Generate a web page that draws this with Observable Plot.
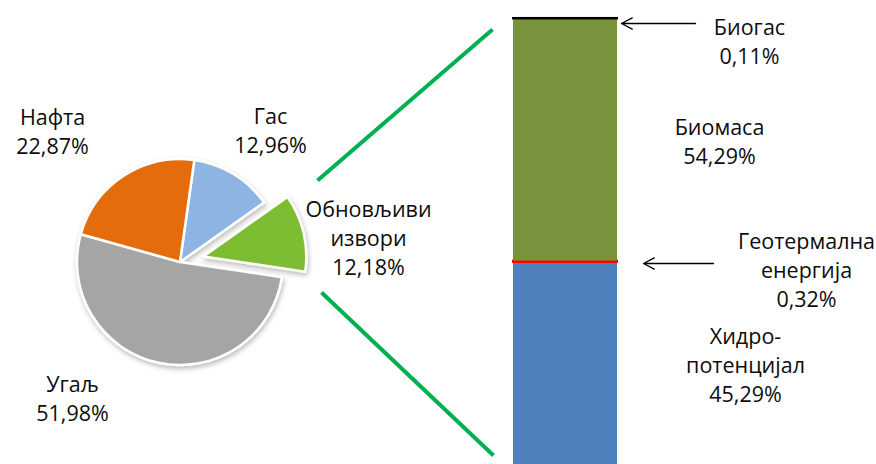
<!DOCTYPE html>
<html><head><meta charset="utf-8">
<script src="https://cdn.jsdelivr.net/npm/d3@7"></script>
<script src="https://cdn.jsdelivr.net/npm/@observablehq/plot@0.6"></script>
<style>body{margin:0;background:#fff}</style>
</head><body><div id="chart"></div>
<script>
// ---- data ----
const pieNames = ["Гас", "Обновљиви\nизвори", "Угаљ", "Нафта"];
const pieValues = [12.96, 12.18, 51.98, 22.87];
const pieColors = ["#8EB4E3", "#7CBD31", "#A5A5A5", "#E46C0A"];
const pieExploded = [false, true, false, false];

const renewNames = ["Хидро-\nпотенцијал", "Геотермална\nенергија", "Биомаса", "Биогас"];
const renewValues = [45.29, 0.32, 54.29, 0.11];
const renewColors = ["#4F81BD", "#FF0000", "#77933C", "#000000"];
const renewThin = [false, true, false, true];

// ---- layout (pixels) ----
const W = 876, H = 464;
const barTop = 18, barBottom = 464, barLeft = 513, barRight = 617;
const pieCenter = [180, 262], pieRadius = 103, pieExplode = 24, pieStart = 8;
const pieLabelPos = [[270, 129], [368, 236], [72, 397], [52, 130]];
const renewLabelPos = [[745, 363], [806, 268], [719, 140], [749, 39.5]];
const arrowPos = [[713, 263, 643, 263], [695, 23, 621, 23]];
const connectorPos = [[317, 180, 492, 29], [321, 292, 493, 455]];

const fmt = v => v.toFixed(2).replace(".", ",") + "%";
const Y = px => (barBottom - px) * 100 / (barBottom - barTop); // pixel -> y scale units

const pieData = pieNames.map((n, i) => ({name: n, value: pieValues[i], color: pieColors[i], exploded: pieExploded[i],
  label: n + "\n" + fmt(pieValues[i]), lx: pieLabelPos[i][0], ly: Y(pieLabelPos[i][1])}));
const renewData = renewNames.map((n, i) => ({name: n, value: renewValues[i], color: renewColors[i], thin: renewThin[i],
  label: n + "\n" + fmt(renewValues[i]), lx: renewLabelPos[i][0], ly: Y(renewLabelPos[i][1])}));
const arrows = arrowPos.map(a => ({x1: a[0], y1: Y(a[1]), x2: a[2], y2: Y(a[3])}));
const connectors = connectorPos.map(a => ({x1: a[0], y1: Y(a[1]), x2: a[2], y2: Y(a[3])}));

function pieMark(index, scales) {
  const g = d3.create("svg:g");
  g.append("defs").html('<filter id="pieShadow" x="-20%" y="-20%" width="140%" height="140%"><feDropShadow dx="1" dy="2.5" stdDeviation="2.5" flood-color="#000" flood-opacity="0.28"/></filter>');
  const cx = scales.x(pieCenter[0]), cy = scales.y(Y(pieCenter[1]));
  const start = pieStart * Math.PI / 180;
  const arcs = d3.pie().sort(null).value(d => d.value).startAngle(start).endAngle(start + 2 * Math.PI)(pieData);
  const arc = d3.arc().innerRadius(0).outerRadius(pieRadius);
  const gg = g.append("g").attr("transform", `translate(${cx},${cy})`).attr("filter", "url(#pieShadow)");
  gg.selectAll("path").data(arcs).join("path")
    .attr("d", arc)
    .attr("fill", d => d.data.color)
    .attr("stroke", "#fff")
    .attr("stroke-width", 2.5)
    .attr("stroke-linejoin", "round")
    .attr("transform", d => {
      if (!d.data.exploded) return null;
      const a = (d.startAngle + d.endAngle) / 2;
      return `translate(${pieExplode * Math.sin(a)},${-pieExplode * Math.cos(a)})`;
    });
  return g.node();
}

const font = {fontFamily: "'Open Sans', 'Noto Sans', sans-serif", fontSize: 21.5, lineHeight: 1.36, fill: "#0d0d0d"};

const chart = Plot.plot({
  width: W, height: H, margin: 0,
  x: {domain: [0, W], axis: null},
  y: {domain: [0, 100], range: [barBottom, barTop], axis: null},
  style: {background: "#fff", overflow: "visible"},
  marks: [
    pieMark,
    Plot.link(connectors, {x1: "x1", y1: "y1", x2: "x2", y2: "y2", stroke: "#00B050", strokeWidth: 4}),
    Plot.rectY(renewData, Plot.stackY({x1: () => barLeft, x2: () => barRight, y: "value", fill: "color",
      stroke: d => d.thin ? d.color : "none", strokeWidth: 2, order: null})),
    Plot.arrow(arrows, {x1: "x1", y1: "y1", x2: "x2", y2: "y2", stroke: "#000", strokeWidth: 1.3, headLength: 14, headAngle: 55}),
    Plot.text(pieData, {x: "lx", y: "ly", text: "label", ...font}),
    Plot.text(renewData, {x: "lx", y: "ly", text: "label", ...font})
  ]
});
document.getElementById("chart").appendChild(chart);
</script>
</body></html>
